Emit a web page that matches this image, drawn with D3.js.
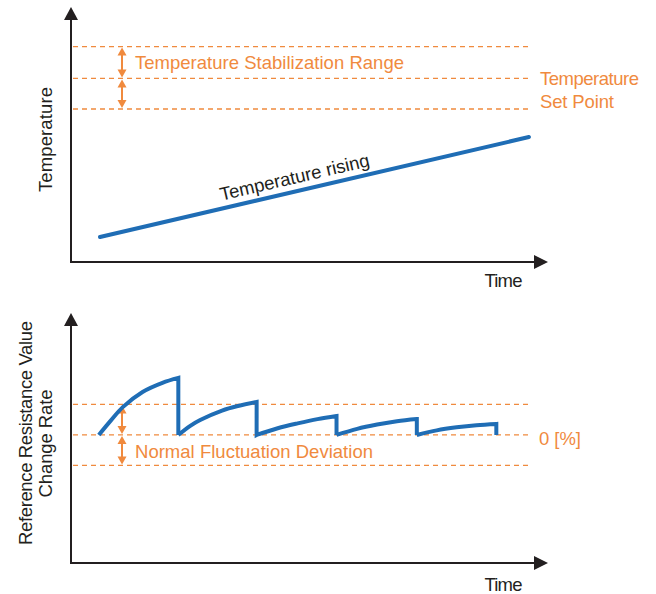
<!DOCTYPE html>
<html><head><meta charset="utf-8">
<script src="https://cdn.jsdelivr.net/npm/d3@7"></script>
<style>body{margin:0;background:#fff}svg{display:block}text{font-family:"Liberation Sans",Arial,sans-serif}</style>
</head><body>
<script>
// ---- data ----
const timeDomain = [0, 120];
// top chart (temperature, arbitrary units)
const tempDomain = [0, 100];
const tempSetPoint = 72;
const tempRange = [60, 84.5];
const tempRising = [[7.3, 9.8], [115.2, 49]];
const dashEnd = 115;
// bottom chart (reference resistance change rate, arbitrary units)
const rateDomain = [-4.2, 4.0];
const rateZero = 0;
const rateDeviation = [-1, 1];
const rateSegments = [
  [[7,0],[10,0.47],[13.1,0.92],[18,1.41],[23,1.71],[27,1.87]],
  [[27,0],[30,0.3],[32.5,0.49],[38,0.8],[42,0.95],[46.7,1.08]],
  [[46.7,0],[52,0.22],[57,0.38],[62,0.52],[66.8,0.62]],
  [[66.8,0],[72,0.2],[77,0.34],[82,0.45],[87,0.52]],
  [[87,0],[92,0.15],[97,0.25],[102,0.32],[107,0.36]]
];
const labels = {
  tempY: "Temperature",
  rateY: ["Reference Resistance Value", "Change Rate"],
  x: "Time",
  stab: "Temperature Stabilization Range",
  setPoint: ["Temperature", "Set Point"],
  rising: "Temperature rising",
  dev: "Normal Fluctuation Deviation",
  zero: "0 [%]"
};

const W = 656, H = 594, FS = 18.5;
const ORANGE = "#f08a3e", BLUE = "#1f6db5", BLACK = "#231f20";
const svg = d3.select("body").append("svg").attr("width", W).attr("height", H);

const x = d3.scaleLinear().domain(timeDomain).range([71, 548]);
const yT = d3.scaleLinear().domain(tempDomain).range([262, 7]);
const yB = d3.scaleLinear().domain(rateDomain).range([563, 313]);

function txt(px, py, s, len, color, anchor) {
  return svg.append("text").attr("x", px).attr("y", py).attr("font-size", FS)
    .attr("fill", color).attr("text-anchor", anchor || "start")
    .attr("textLength", len).attr("lengthAdjust", "spacing").text(s);
}

function axes(y, xLabelY) {
  const g = svg.append("g");
  const x0 = x.range()[0], x1 = x.range()[1];
  const yb = y.range()[0], yt = y.range()[1];
  g.append("path").attr("d", `M${x0},${yt + 12}V${yb}H${x1 - 13}`)
    .attr("fill", "none").attr("stroke", BLACK).attr("stroke-width", 2);
  g.append("path").attr("d", `M${x0},${yt}L${x0 - 7},${yt + 13}L${x0 + 7},${yt + 13}Z`).attr("fill", BLACK);
  g.append("path").attr("d", `M${x1},${yb}L${x1 - 14},${yb - 7}L${x1 - 14},${yb + 7}Z`).attr("fill", BLACK);
  txt(503.5, xLabelY, labels.x, 38, BLACK, "middle");
}

function dashed(y, v) {
  svg.append("line").attr("x1", x(0) + 2).attr("x2", x(dashEnd)).attr("y1", y(v)).attr("y2", y(v))
    .attr("stroke", ORANGE).attr("stroke-width", 1.3).attr("stroke-dasharray", "5,4");
}

function dblArrow(xp, ya, yb2) {
  const g = svg.append("g").attr("fill", ORANGE);
  g.append("line").attr("x1", xp).attr("x2", xp).attr("y1", ya + 6).attr("y2", yb2 - 6)
    .attr("stroke", ORANGE).attr("stroke-width", 2);
  g.append("path").attr("d", `M${xp},${ya}L${xp - 4.5},${ya + 8}L${xp + 4.5},${ya + 8}Z`);
  g.append("path").attr("d", `M${xp},${yb2}L${xp - 4.5},${yb2 - 8}L${xp + 4.5},${yb2 - 8}Z`);
}

// ---- top chart ----
axes(yT, 287);
dashed(yT, tempRange[1]); dashed(yT, tempSetPoint); dashed(yT, tempRange[0]);
dblArrow(122, yT(tempRange[1]) + 1, yT(tempSetPoint) - 1);
dblArrow(122, yT(tempSetPoint) + 1, yT(tempRange[0]) - 1);
txt(135, 69, labels.stab, 269, ORANGE);
txt(540, 85, labels.setPoint[0], 99, ORANGE);
txt(540, 108, labels.setPoint[1], 74, ORANGE);

const lineT = d3.line().x(d => x(d[0])).y(d => yT(d[1]));
svg.append("path").attr("d", lineT(tempRising)).attr("fill", "none")
  .attr("stroke", BLUE).attr("stroke-width", 4).attr("stroke-linecap", "round");
{
  const p0 = tempRising[0], p1 = tempRising[1];
  const ang = Math.atan2(yT(p1[1]) - yT(p0[1]), x(p1[0]) - x(p0[0])) * 180 / Math.PI;
  const cx = 296, cy = yT(p0[1]) + (cx - x(p0[0])) * Math.tan(ang * Math.PI / 180) - 8;
  svg.append("text").attr("transform", `translate(${cx},${cy}) rotate(${ang})`)
    .attr("text-anchor", "middle").attr("font-size", FS).attr("fill", BLACK)
    .attr("textLength", 153).text(labels.rising);
}
svg.append("text").attr("transform", "translate(51.5,139.5) rotate(-90)").attr("text-anchor", "middle")
  .attr("font-size", FS).attr("fill", BLACK).attr("textLength", 105).text(labels.tempY);

// ---- bottom chart ----
axes(yB, 591);
dashed(yB, rateDeviation[1]); dashed(yB, rateZero); dashed(yB, rateDeviation[0]);
dblArrow(122, yB(rateDeviation[1]) + 1, yB(rateZero) - 1);
dblArrow(122, yB(rateZero) + 1, yB(rateDeviation[0]) - 1);
txt(135, 458, labels.dev, 238, ORANGE);
txt(539, 445, labels.zero, 42, ORANGE);

const curveB = d3.line().x(d => x(d[0])).y(d => yB(d[1])).curve(d3.curveCatmullRom);
let dB = "";
rateSegments.forEach((seg, i) => {
  const c = curveB(seg);
  dB += (i === 0 ? c : "L" + c.slice(1));
  const last = seg[seg.length - 1];
  dB += `L${x(last[0])},${yB(rateZero)}`;
});
svg.append("path").attr("d", dB).attr("fill", "none").attr("stroke", BLUE)
  .attr("stroke-width", 4).attr("stroke-linejoin", "miter");

svg.append("text").attr("transform", "translate(31.5,433) rotate(-90)")
  .attr("text-anchor", "middle").attr("font-size", FS).attr("fill", BLACK)
  .attr("textLength", 224).text(labels.rateY[0]);
svg.append("text").attr("transform", "translate(52,443.5) rotate(-90)")
  .attr("text-anchor", "middle").attr("font-size", FS).attr("fill", BLACK)
  .attr("textLength", 108).text(labels.rateY[1]);
</script>
</body></html>
